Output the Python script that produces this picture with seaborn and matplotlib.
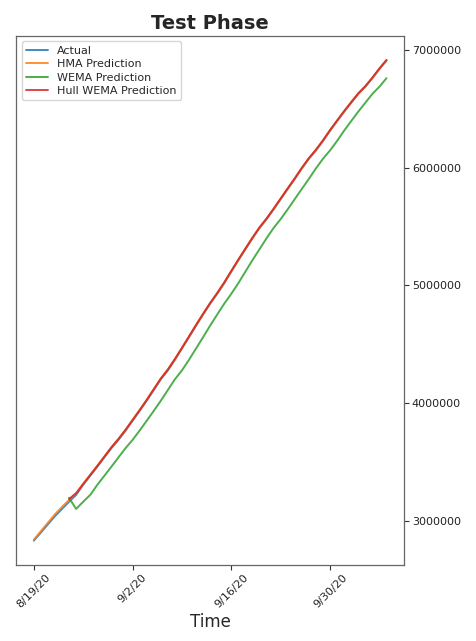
import matplotlib
matplotlib.use("Agg")
import matplotlib.pyplot as plt
import seaborn as sns
import pandas as pd

# Daily cumulative counts over the test window
dates = pd.date_range("2020-08-19", "2020-10-08", freq="D")

actual = [
    2836925, 2905823, 2975701, 3044940, 3106348, 3167323, 3224547, 3310234,
    3387500, 3463972, 3542733, 3621245, 3691166, 3769523, 3853406, 3936747,
    4023179, 4113811, 4204613, 4280422, 4370128, 4465863, 4562414, 4659984,
    4754356, 4846427, 4930236, 5020359, 5118253, 5214677, 5308014, 5400619,
    5487580, 5562663, 5646010, 5732518, 5818570, 5903932, 5992532, 6074702,
    6145291, 6225763, 6312584, 6394068, 6473544, 6549373, 6623815, 6685082,
    6757131, 6835655, 6906151,
]

hma_pred = [
    2845000, 2918000, 2990000, 3061000, 3124000, 3183000, 3238000, 3318000,
    3395000, 3472000, 3550000, 3629000, 3700000, 3776000, 3860000, 3944000,
    4030000, 4120000, 4210000, 4288000, 4376000, 4470000, 4566000, 4663000,
    4758000, 4850000, 4935000, 5024000, 5121000, 5217000, 5311000, 5403000,
    5490000, 5566000, 5649000, 5735000, 5821000, 5906000, 5994000, 6077000,
    6149000, 6228000, 6314000, 6396000, 6475000, 6551000, 6626000, 6688000,
    6759000, 6837000, 6908000,
]

# Weighted-EMA based forecasts start once the warm-up window is filled
wema_dates = dates[5:]
wema_pred = [
    3200000, 3106000, 3167000, 3225000, 3310000, 3387000, 3464000, 3543000,
    3621000, 3691000, 3770000, 3853000, 3937000, 4023000, 4114000, 4205000,
    4280000, 4370000, 4466000, 4562000, 4660000, 4754000, 4846000, 4930000,
    5020000, 5118000, 5215000, 5308000, 5401000, 5488000, 5563000, 5646000,
    5733000, 5819000, 5904000, 5993000, 6075000, 6145000, 6226000, 6313000,
    6394000, 6474000, 6549000, 6624000, 6685000, 6757000,
]

hull_wema_pred = [
    3190000, 3240000, 3318000, 3394000, 3470000, 3549000, 3628000, 3699000,
    3776000, 3860000, 3943000, 4030000, 4120000, 4211000, 4287000, 4376000,
    4472000, 4568000, 4666000, 4760000, 4852000, 4936000, 5026000, 5124000,
    5220000, 5313000, 5406000, 5493000, 5568000, 5651000, 5738000, 5824000,
    5909000, 5998000, 6080000, 6151000, 6231000, 6318000, 6399000, 6479000,
    6555000, 6629000, 6690000, 6762000, 6840000, 6912000,
]

series_names = ["Actual", "HMA Prediction", "WEMA Prediction", "Hull WEMA Prediction"]
tick_dates = pd.to_datetime(["2020-08-19", "2020-09-02", "2020-09-16", "2020-09-30"])
tick_labels = ["8/19/20", "9/2/20", "9/16/20", "9/30/20"]
y_ticks = [3000000, 4000000, 5000000, 6000000, 7000000]

sns.set_theme(style="white")
plt.rcParams["font.family"] = ["DejaVu Sans"]

frames = [
    pd.DataFrame({"date": dates, "value": actual, "series": series_names[0]}),
    pd.DataFrame({"date": dates, "value": hma_pred, "series": series_names[1]}),
    pd.DataFrame({"date": wema_dates, "value": wema_pred, "series": series_names[2]}),
    pd.DataFrame({"date": wema_dates, "value": hull_wema_pred, "series": series_names[3]}),
]
df = pd.concat(frames, ignore_index=True)

palette = ["#1f77b4", "#ff7f0e", "#2ca02c", "#d62728"]

fig = plt.figure(figsize=(4.76, 6.41), dpi=100)
ax = fig.add_axes([0.034, 0.119, 0.815, 0.825])

sns.lineplot(data=df, x="date", y="value", hue="series", palette=palette,
             linewidth=1.4, alpha=0.85, ax=ax)

ax.set_title("Test Phase", fontsize=14, fontweight="bold", pad=5)
ax.set_xlabel("Time", fontsize=12, labelpad=2)
ax.set_ylabel("")

ax.set_xticks(tick_dates)
ax.set_xticklabels(tick_labels, rotation=45, fontsize=8)
ax.set_yticks(y_ticks)
ax.set_yticklabels([str(v) for v in y_ticks], fontsize=8)
ax.yaxis.tick_right()
ax.tick_params(axis="both", which="both", length=3.5, width=0.8,
               color="#333333", labelcolor="#222222", pad=2)
ax.tick_params(axis="x", bottom=True)
ax.tick_params(axis="y", right=True, left=False)

for sp in ax.spines.values():
    sp.set_color("#666666")
    sp.set_linewidth(0.9)

leg = ax.legend(loc="upper left", fontsize=8, frameon=True, handlelength=2,
                borderpad=0.4, labelspacing=0.3)
leg.get_frame().set_edgecolor("#cccccc")

fig.savefig("out.png", dpi=100)
